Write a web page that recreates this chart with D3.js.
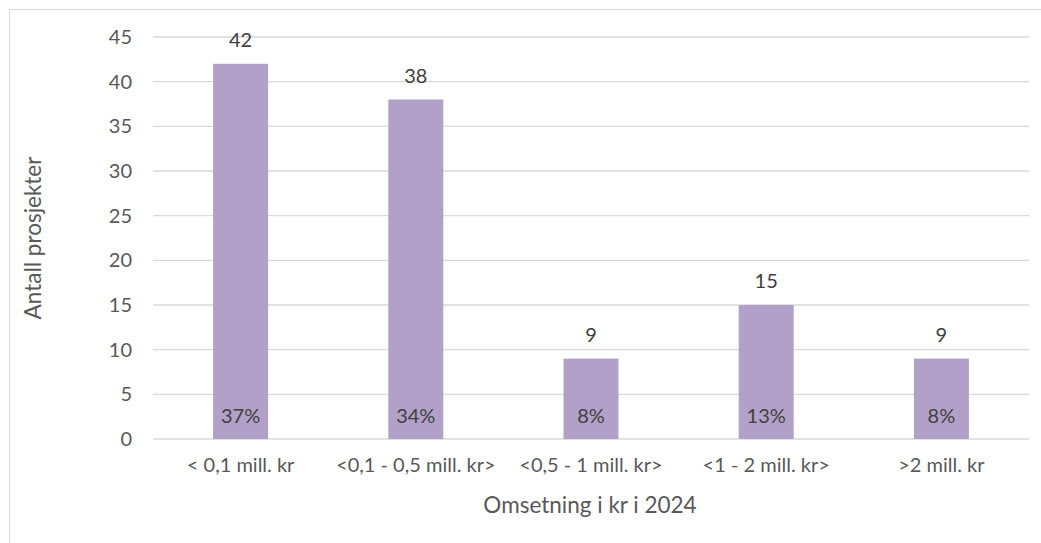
<!DOCTYPE html>
<html>
<head>
<meta charset="utf-8">
<script src="https://cdn.jsdelivr.net/npm/d3@7"></script>
<style>
  body { margin: 0; background: #fff; }
  svg text { font-family: Lato, "Open Sans", sans-serif; fill: #595959; }
</style>
</head>
<body>
<svg id="chart" width="1041" height="543"></svg>
<script>
// chart data
const categories = ['< 0,1 mill. kr', '<0,1 - 0,5 mill. kr>', '<0,5 - 1 mill. kr>', '<1 - 2 mill. kr>', '>2 mill. kr'];
const counts = [42, 38, 9, 15, 9];
const shares = ['37%', '34%', '8%', '13%', '8%'];
const yTicks = [0, 5, 10, 15, 20, 25, 30, 35, 40, 45];

const svg = d3.select('#chart');

// outer frame
svg.append('rect')
  .attr('x', 9.5)
  .attr('y', 9.5)
  .attr('width', 1100)
  .attr('height', 600)
  .attr('fill', 'none')
  .attr('stroke', '#d9d9d9');

// scales
const xScale = d3.scaleBand().domain(categories).range([153, 1029]).paddingInner(0.686).paddingOuter(0.343);
const yScale = d3.scaleLinear().domain([0, 45]).range([439, 37]);

// gridlines
svg.append('g')
  .selectAll('line')
  .data(yTicks)
  .enter()
  .append('line')
  .attr('x1', 153)
  .attr('x2', 1029)
  .attr('y1', d => yScale(d))
  .attr('y2', d => yScale(d))
  .attr('stroke', '#d9d9d9')
  .attr('stroke-width', 1.3);

// y axis labels
const yAxis = d3.axisLeft(yScale).tickValues(yTicks).tickSize(0).tickPadding(0);
const yG = svg.append('g')
  .attr('transform', 'translate(132, 0)')
  .call(yAxis);
yG.select('.domain').remove();
yG.selectAll('text').style('font-size', '20px').style('fill', '#595959');

// bars
svg.append('g')
  .selectAll('rect')
  .data(counts)
  .enter()
  .append('rect')
  .attr('x', (d, i) => xScale(categories[i]))
  .attr('y', d => yScale(d))
  .attr('width', xScale.bandwidth())
  .attr('height', d => yScale(0) - yScale(d))
  .attr('fill', '#b1a1c8');

// value labels above bars
svg.append('g')
  .selectAll('text')
  .data(counts)
  .enter()
  .append('text')
  .attr('x', (d, i) => xScale(categories[i]) + xScale.bandwidth() / 2)
  .attr('y', d => yScale(d) - 17)
  .attr('text-anchor', 'middle')
  .style('font-size', '20px')
  .style('fill', '#404040')
  .text(d => d);

// share labels inside bars
svg.append('g')
  .selectAll('text')
  .data(shares)
  .enter()
  .append('text')
  .attr('x', (d, i) => xScale(categories[i]) + xScale.bandwidth() / 2)
  .attr('y', 423)
  .attr('text-anchor', 'middle')
  .style('font-size', '20px')
  .style('fill', '#404040')
  .text(d => d);

// x axis labels
const xAxis = d3.axisBottom(xScale).tickSize(0).tickPadding(0);
const xG = svg.append('g')
  .attr('transform', 'translate(0, 458)')
  .call(xAxis);
xG.select('.domain').remove();
xG.selectAll('text').style('font-size', '20px').style('fill', '#595959');

// axis titles
svg.append('text')
  .attr('x', 590)
  .attr('y', 513)
  .attr('text-anchor', 'middle')
  .style('font-size', '22.5px')
  .text('Omsetning i kr i 2024');

svg.append('text')
  .attr('transform', 'translate(41, 238) rotate(-90)')
  .attr('text-anchor', 'middle')
  .style('font-size', '22.5px')
  .text('Antall prosjekter');
</script>
</body>
</html>
